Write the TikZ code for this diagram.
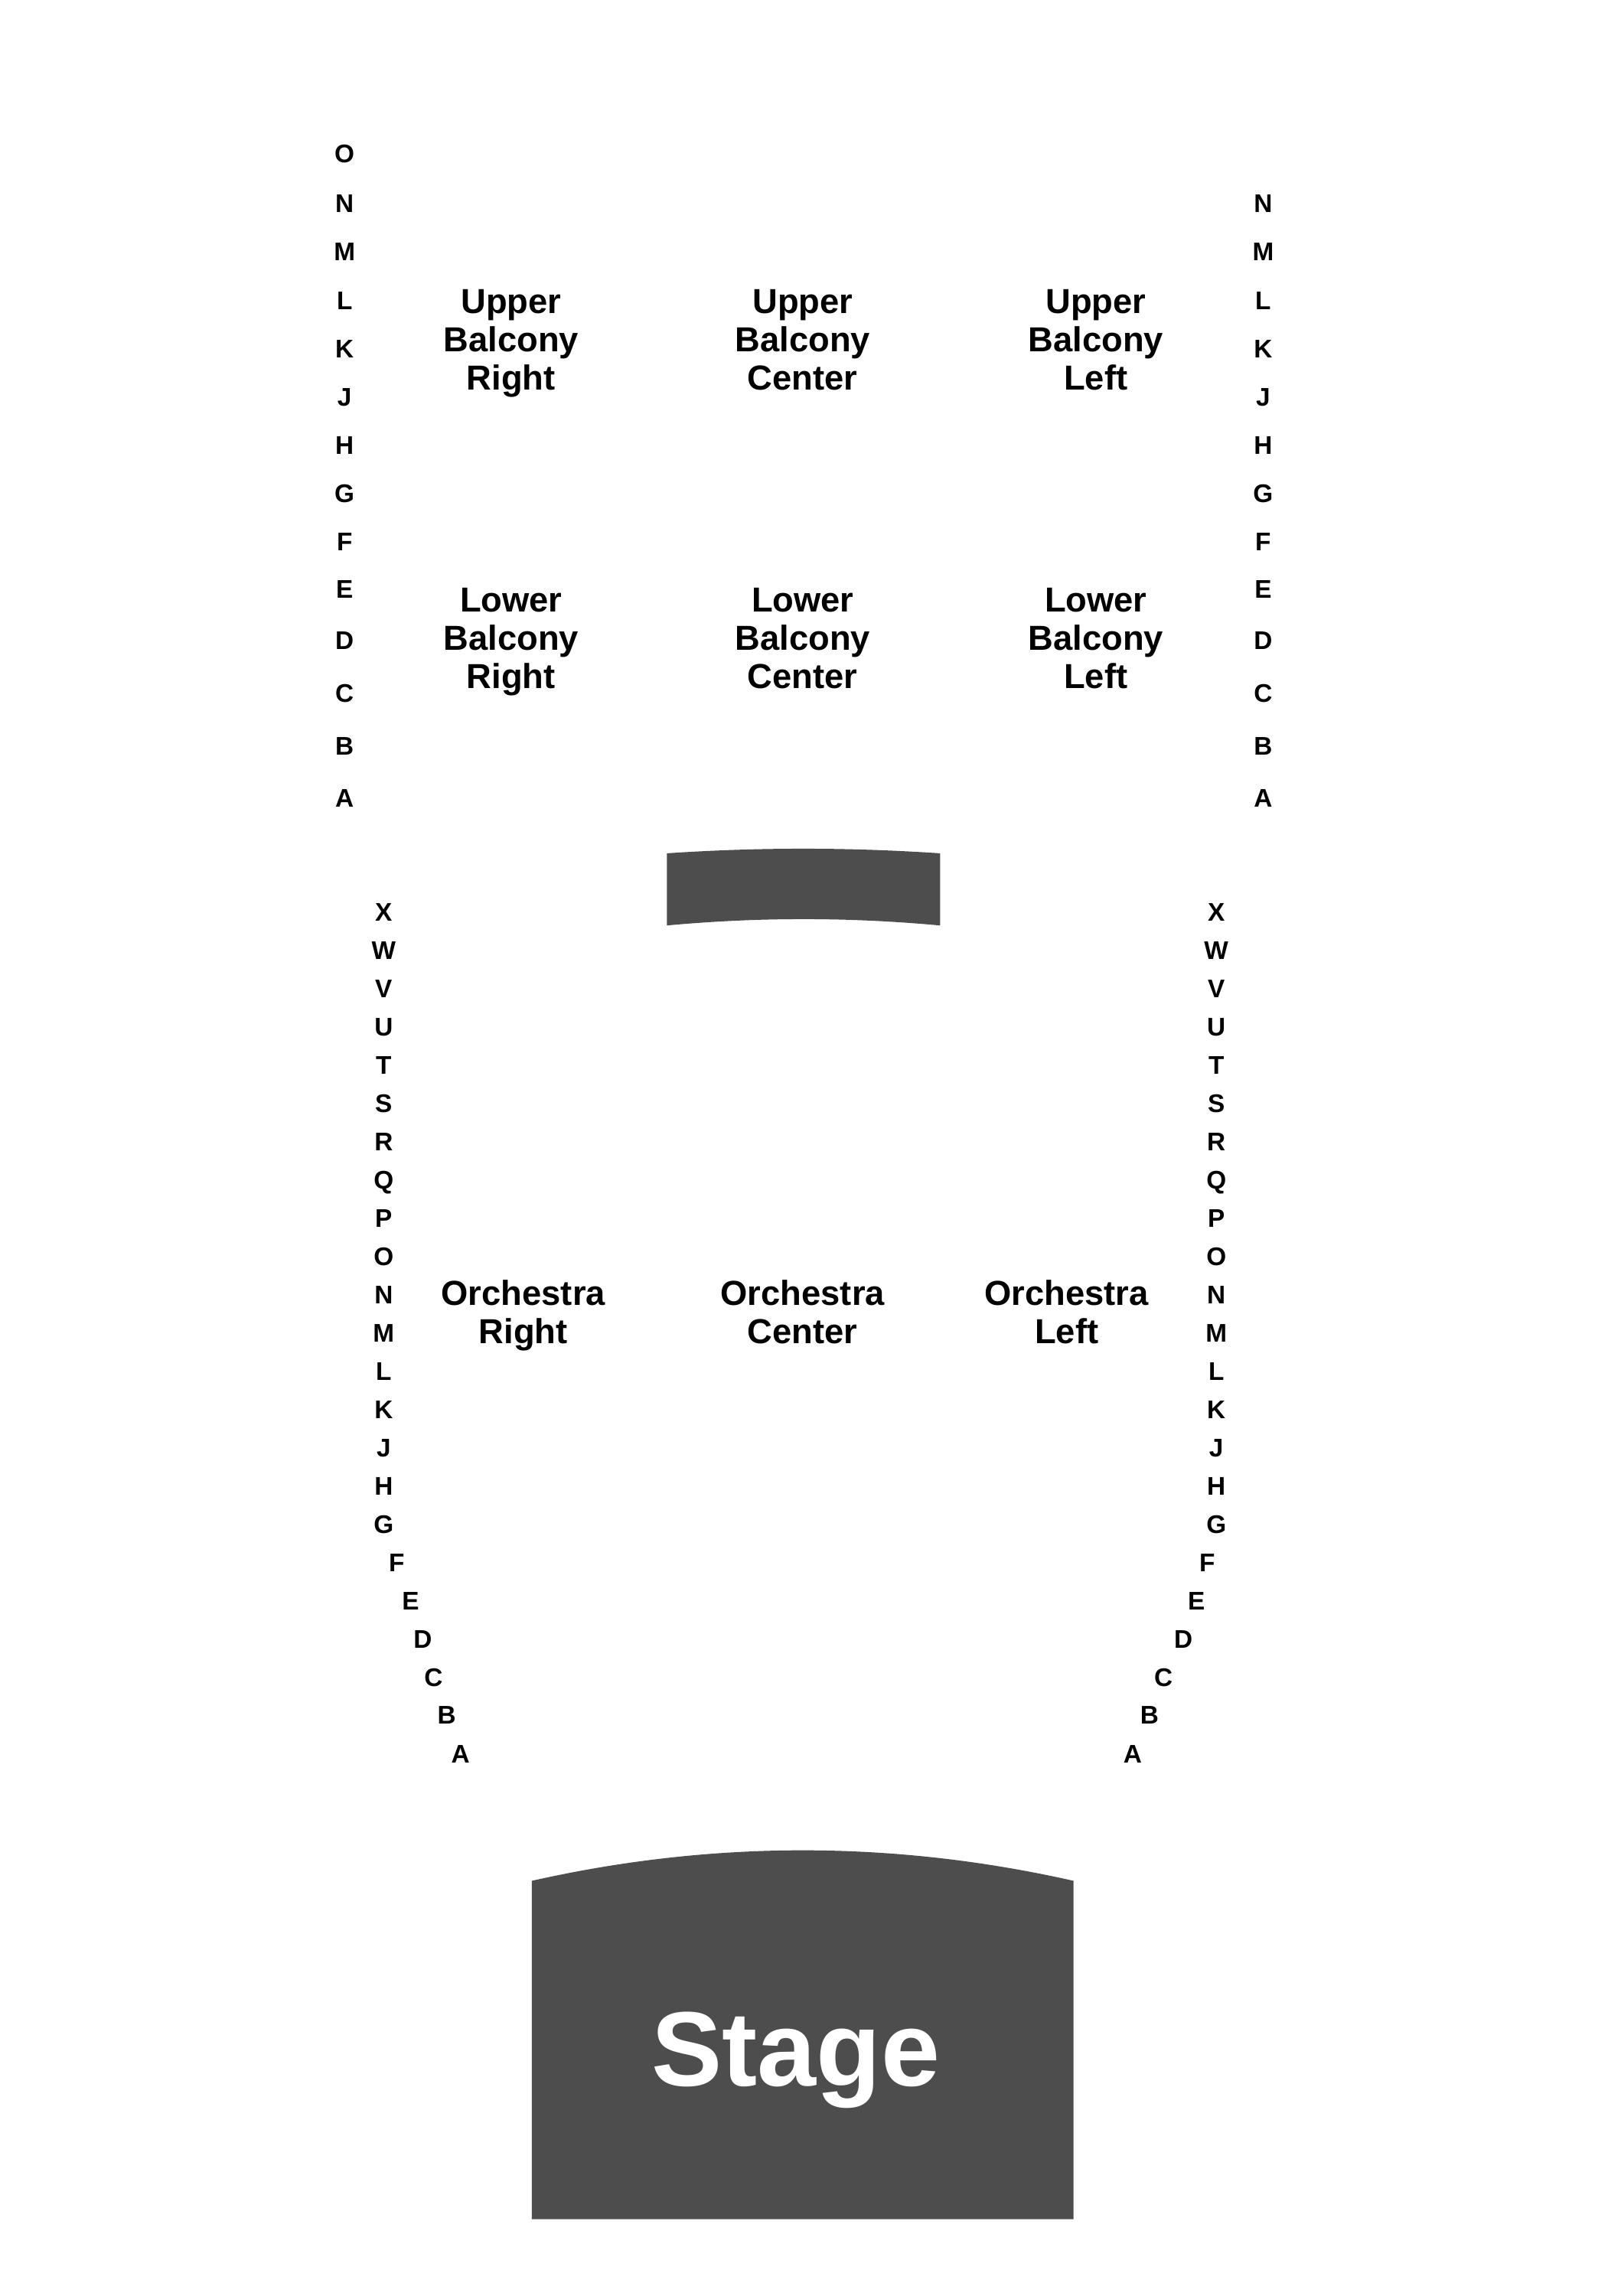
\documentclass[tikz,border=0pt]{standalone}
\usepackage{fontspec}
\setmainfont{Liberation Sans}
\definecolor{venuegray}{HTML}{4D4D4D}
\begin{document}
\begin{tikzpicture}[x=0.3008pt,y=-0.3008pt,
  rowlbl/.style={font=\fontsize{10}{12}\selectfont\bfseries, inner sep=0pt, text height=7.2pt, text depth=0pt, anchor=center},
  seclbl/.style={font=\fontsize{13.6}{15}\selectfont\bfseries, align=center, inner sep=0pt, anchor=north},
  block/.style={fill=venuegray, draw=none}]
\useasboundingbox (0pt,0pt) rectangle (630pt,-900pt);
\fill[white] (0pt,0pt) rectangle (630pt,-900pt);

% stage
\fill[block] (693,2892) -- (693,2451) .. controls (928,2398) and (1164,2398) .. (1399,2451) -- (1399,2892) -- cycle;
\node[font=\fontsize{41.5}{48}\selectfont\bfseries, text=white, inner sep=0pt, text height=29.7pt, text depth=0pt] (stage) at (1037,2669) {Stage};

% balcony front bar
\fill[block] (869,1112) .. controls (988,1104) and (1106,1104) .. (1225,1112) -- (1225,1206) .. controls (1106,1195) and (988,1195) .. (869,1206) -- cycle;

% section labels
\node[seclbl] (ubr) at (666,377) {Upper\\Balcony\\Right};
\node[seclbl] (ubc) at (1046,377) {Upper\\Balcony\\Center};
\node[seclbl] (ubl) at (1428,377) {Upper\\Balcony\\Left};
\node[seclbl] (lbr) at (666,766) {Lower\\Balcony\\Right};
\node[seclbl] (lbc) at (1046,766) {Lower\\Balcony\\Center};
\node[seclbl] (lbl) at (1428,766) {Lower\\Balcony\\Left};
\node[seclbl] (orr) at (682,1668) {Orchestra\\Right};
\node[seclbl] (orc) at (1046,1668) {Orchestra\\Center};
\node[seclbl] (orl) at (1390,1668) {Orchestra\\Left};

% balcony row letters
\node[rowlbl] (bl-O) at (449,200) {O};
\foreach \r/\y in {N/265,M/328,L/391,K/454,J/517,H/580,G/643,F/706,E/767,D/834,C/903,B/972,A/1040}{
  \node[rowlbl] (bl-\r) at (449,\y) {\r};
  \node[rowlbl] (br-\r) at (1646,\y) {\r};
}

% orchestra row letters
\foreach \r [count=\i from 0] in {X,W,V,U,T,S,R,Q,P,O,N,M,L,K,J,H,G}{
  \node[rowlbl] (ol-\r) at (500,1188+\i*49.9) {\r};
  \node[rowlbl] (or-\r) at (1585,1188+\i*49.9) {\r};
}
\foreach \r/\xl/\xr/\y in {F/517/1573/2036,E/535/1559/2086,D/551/1542/2136,C/565/1516/2186,B/582/1498/2235,A/600/1476/2285}{
  \node[rowlbl] (ol-\r) at (\xl,\y) {\r};
  \node[rowlbl] (or-\r) at (\xr,\y) {\r};
}
\end{tikzpicture}
\end{document}
